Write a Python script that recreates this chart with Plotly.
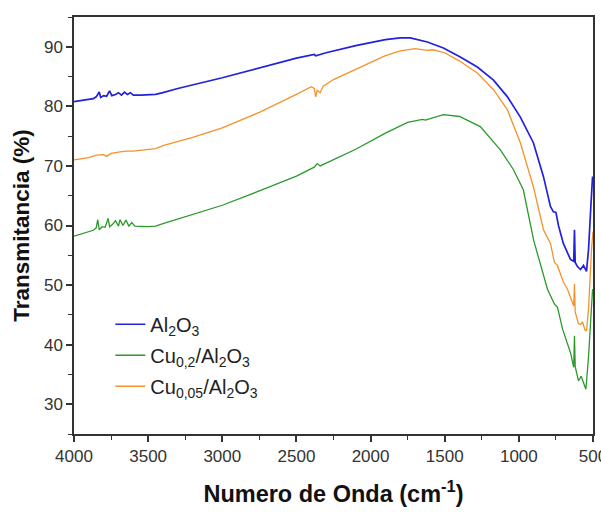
import plotly.graph_objects as go

# Al2O3 (blue)
wn_al = [4000, 3950, 3900, 3870, 3850, 3830, 3820, 3800, 3780, 3760, 3745, 3720, 3700, 3680, 3660, 3640,
         3620, 3600, 3550, 3450, 3400, 3300, 3000, 2750, 2500, 2380, 2370, 2300, 2100, 1900, 1800, 1732,
         1617, 1509, 1395, 1280, 1171, 1077, 990, 902, 834, 787, 767, 750, 733, 700, 652, 630, 625, 620,
         605, 584, 564, 544, 530, 515, 503, 500]
t_al = [80.8, 81.0, 81.2, 81.3, 81.6, 82.4, 81.5, 81.8, 81.7, 82.6, 81.8, 82.0, 82.3, 81.9, 82.4, 82.0,
        82.3, 81.9, 81.9, 82.0, 82.3, 83.0, 84.8, 86.5, 88.1, 88.7, 88.5, 89.0, 90.2, 91.2, 91.5, 91.5,
        90.8, 89.8, 88.3, 86.6, 84.4, 81.6, 78.2, 73.9, 68.2, 63.2, 62.3, 62.2, 60.0, 57.0, 54.3, 54.0, 59.3, 53.8,
        53.1, 52.6, 53.3, 52.3, 56.0, 63.0, 68.2, 68.0]

# Cu0,2/Al2O3 (green)
wn_c02 = [4000, 3950, 3900, 3870, 3850, 3840, 3830, 3810, 3790, 3770, 3760, 3740, 3720, 3700, 3690, 3670,
          3650, 3630, 3610, 3590, 3500, 3450, 3400, 3200, 3000, 2750, 2500, 2380, 2360, 2340, 2100, 1900,
          1750, 1650, 1630, 1509, 1400, 1260, 1125, 1037, 970, 900, 807, 760, 740, 705, 650, 630, 625, 620,
          598, 580, 560, 548, 530, 510, 503, 500]
t_c02 = [58.2, 58.6, 58.9, 59.2, 59.6, 61.0, 59.3, 59.8, 59.7, 61.2, 59.8, 60.2, 60.8, 59.9, 61.0, 60.0,
         60.9, 59.9, 60.5, 59.9, 59.8, 59.9, 60.3, 61.8, 63.4, 65.8, 68.3, 69.8, 70.4, 70.0, 72.8, 75.5,
         77.3, 77.8, 77.7, 78.6, 78.3, 76.6, 72.7, 69.4, 66.0, 57.5, 49.3, 46.8, 46.3, 42.6, 38.5, 36.2, 41.5, 36.3,
         33.9, 34.7, 33.2, 32.5, 38.0, 47.0, 49.3, 49.0]

# Cu0,05/Al2O3 (orange)
wn_c005 = [4000, 3950, 3900, 3850, 3800, 3780, 3750, 3700, 3650, 3600, 3500, 3450, 3400, 3200, 3000, 2750,
           2500, 2400, 2380, 2370, 2360, 2340, 2320, 2250, 2100, 1900, 1800, 1700, 1620, 1580, 1500, 1400,
           1280, 1171, 1077, 990, 902, 834, 787, 760, 740, 700, 672, 630, 625, 620, 598, 584, 570, 555,
           544, 530, 510, 500]
t_c005 = [71.0, 71.2, 71.4, 71.8, 71.9, 71.6, 72.1, 72.3, 72.5, 72.5, 72.7, 72.9, 73.4, 74.8, 76.4, 79.0,
          82.0, 83.3, 83.0, 81.6, 82.7, 82.3, 83.4, 84.5, 86.2, 88.5, 89.3, 89.7, 89.4, 89.5, 89.0, 87.6,
          85.6, 82.8, 79.4, 73.9, 66.5, 59.3, 57.0, 53.8, 53.3, 50.5, 49.3, 46.5, 50.2, 45.5, 43.5, 43.4, 43.8, 42.5,
          42.3, 46.0, 56.0, 59.0]

x_ticks = [4000, 3500, 3000, 2500, 2000, 1500, 1000, 500]
y_ticks = [30, 40, 50, 60, 70, 80, 90]

FONT = "Arial, Liberation Sans, sans-serif"

fig = go.Figure()
fig.add_trace(go.Scatter(x=wn_al, y=t_al, mode="lines", name="Al<sub>2</sub>O<sub>3</sub>",
                         line=dict(color="#2222DD", width=1.7), legendgroup="a"))
fig.add_trace(go.Scatter(x=wn_c02, y=t_c02, mode="lines", name="Cu<sub>0,2</sub>/Al<sub>2</sub>O<sub>3</sub>",
                         line=dict(color="#2A9A2A", width=1.3), legendgroup="b"))
fig.add_trace(go.Scatter(x=wn_c005, y=t_c005, mode="lines", name="Cu<sub>0,05</sub>/Al<sub>2</sub>O<sub>3</sub>",
                         line=dict(color="#F5922A", width=1.3), legendgroup="c"))

fig.update_layout(
    width=601, height=512,
    margin=dict(l=74, r=8, t=17, b=78, autoexpand=False),
    paper_bgcolor="white", plot_bgcolor="white",
    font=dict(family=FONT, color="#333333"),
    showlegend=True,
    legend=dict(x=0.07, y=0.31, xanchor="left", yanchor="top", bgcolor="rgba(0,0,0,0)",
                font=dict(size=20, color="#222222"), tracegroupgap=2, traceorder="grouped"),
)
fig.update_xaxes(
    range=[4000, 500], tickvals=x_ticks, ticks="outside", ticklen=6, tickwidth=1.5,
    tickcolor="#333333", showline=True, linecolor="#333333", linewidth=1.5, mirror=True,
    showgrid=False, zeroline=False, tickfont=dict(size=17, color="#333333"),
    ticklabeloverflow="allow", automargin=False,
    minor=dict(ticks="outside", ticklen=4, tickwidth=1.2, tickcolor="#333333", dtick=250, showgrid=False),
    title=dict(text="<b>Numero de Onda (cm<sup>-1</sup>)</b>", font=dict(size=23.5, color="#111111"), standoff=20),
)
fig.update_yaxes(
    range=[25, 95], tickvals=y_ticks, ticks="outside", ticklen=6, tickwidth=1.5,
    tickcolor="#333333", showline=True, linecolor="#333333", linewidth=1.5, mirror=True,
    showgrid=False, zeroline=False, tickfont=dict(size=17, color="#333333"), automargin=False,
    minor=dict(ticks="outside", ticklen=4, tickwidth=1.2, tickcolor="#333333", dtick=5, tick0=25, showgrid=False),
    title=dict(text="<b>Transmitancia (%)</b>", font=dict(size=22.5, color="#111111"), standoff=8),
)

fig.write_html("out.html")
